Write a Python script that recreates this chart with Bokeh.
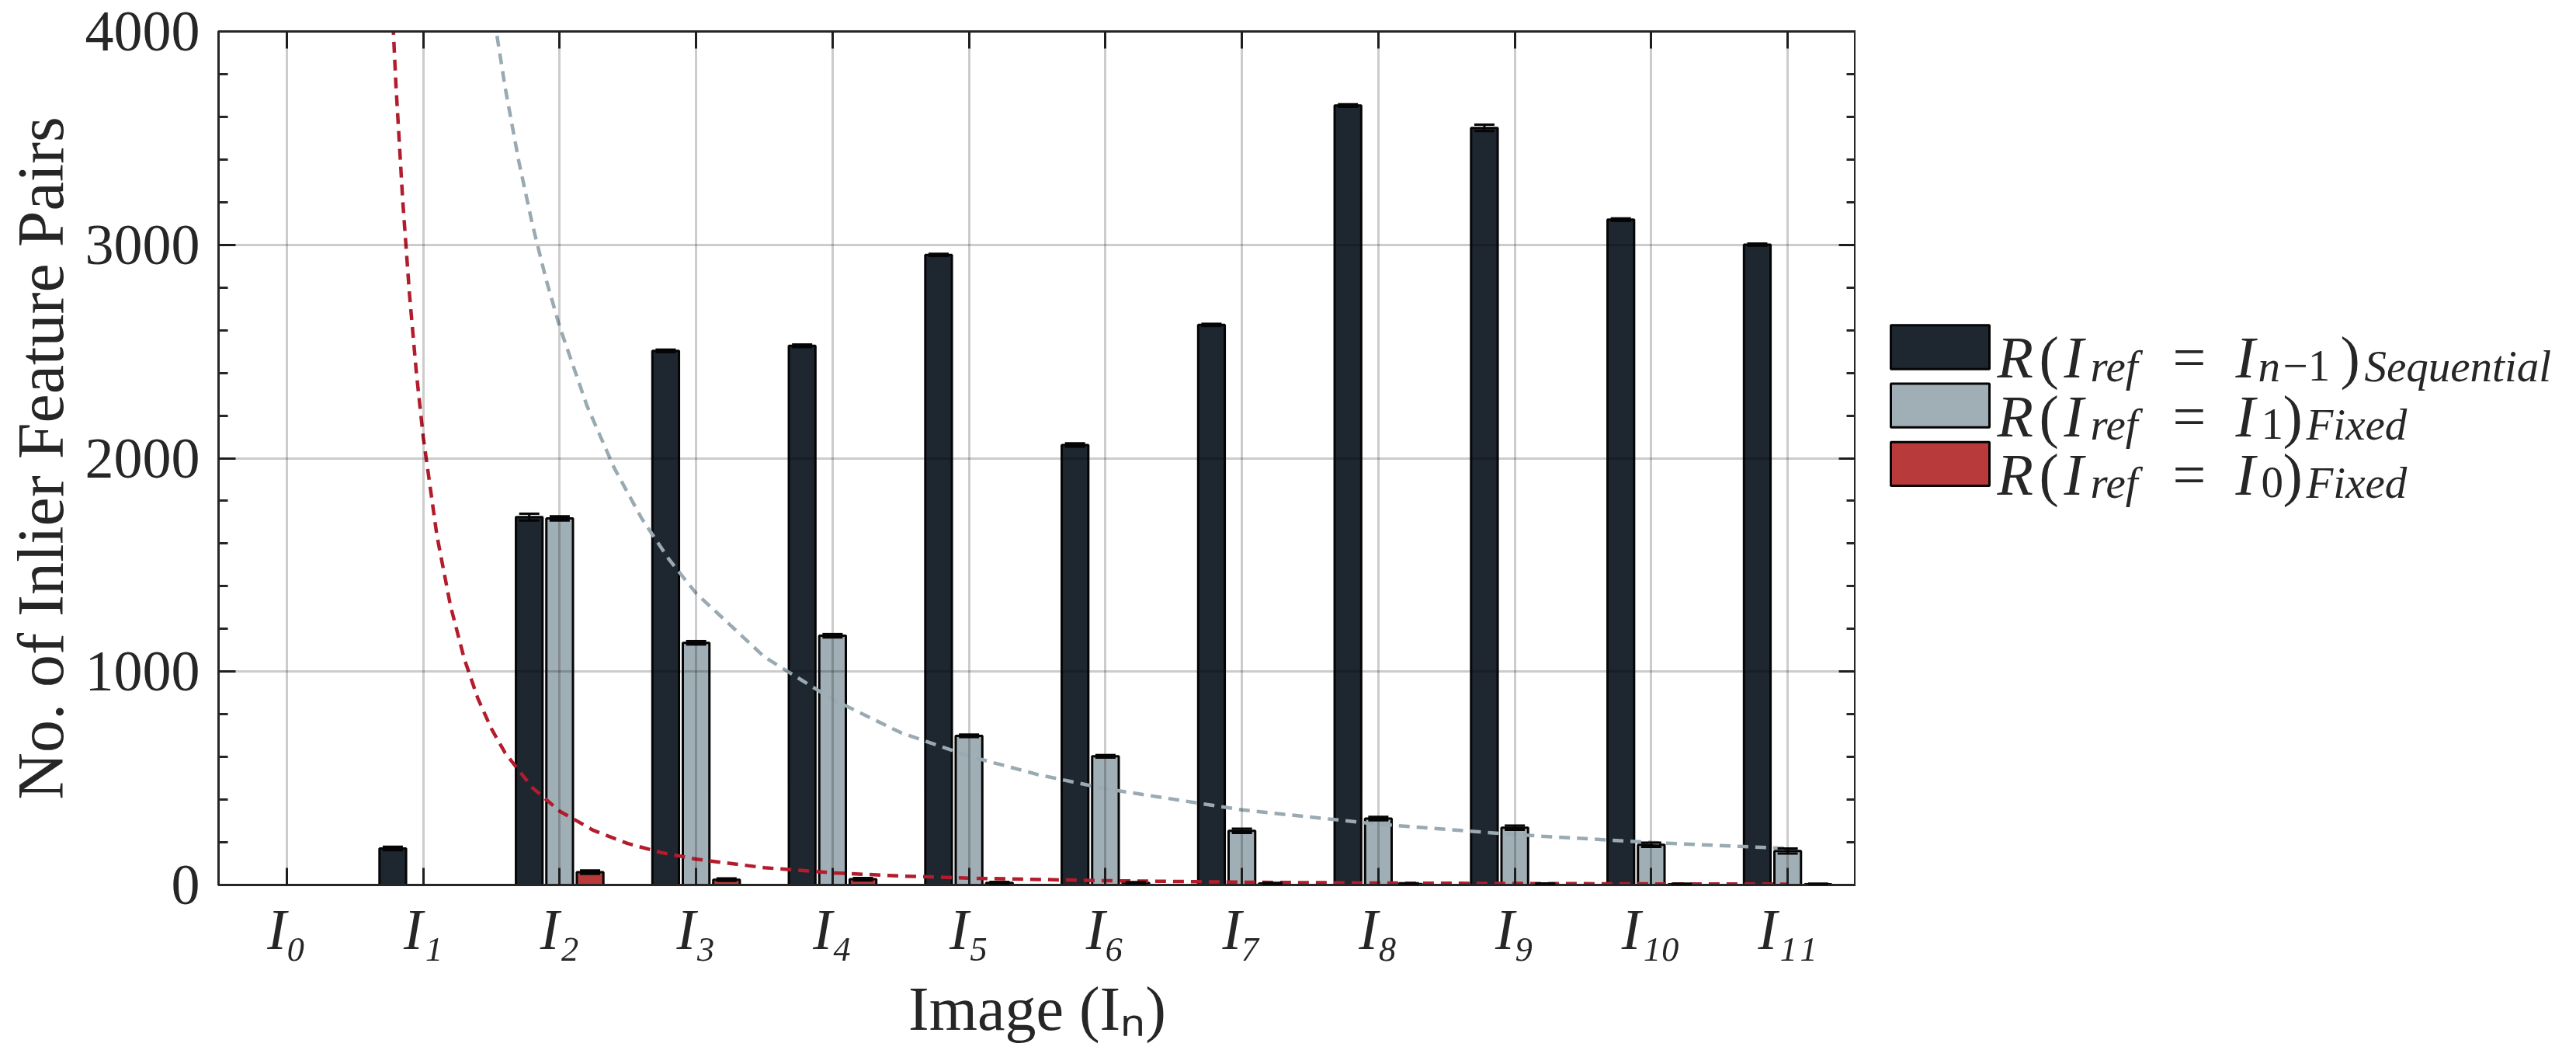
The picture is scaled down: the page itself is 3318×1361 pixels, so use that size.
import numpy as np
from bokeh.plotting import figure
from bokeh.models import (Range1d, FixedTicker, LinearAxis, ColumnDataSource,
                          Whisker, TeeHead)
from bokeh.layouts import row
from bokeh.embed import file_html
from bokeh.resources import INLINE
from bokeh.core.properties import value

# ---------------- data ----------------
image_idx = [0, 1, 2, 3, 4, 5, 6, 7, 8, 9, 10, 11]
image_labels = ["I₀", "I₁", "I₂", "I₃", "I₄", "I₅", "I₆", "I₇", "I₈", "I₉", "I₁₀", "I₁₁"]

seq_vals = [0, 171, 1724, 2503, 2527, 2953, 2062, 2625, 3653, 3548, 3118, 3001]
seq_err = [0, 8, 16, 6, 6, 5, 8, 5, 6, 15, 6, 5]

fix1_vals = [0, 0, 1718, 1135, 1168, 699, 603, 254, 311, 268, 188, 159]
fix1_err = [0, 0, 10, 8, 8, 6, 6, 10, 8, 10, 10, 12]

fix0_vals = [0, 0, 60, 25, 27, 10, 10, 7, 5, 5, 4, 4]
fix0_err = [0, 0, 8, 6, 6, 5, 4, 3, 3, 2, 2, 2]

# dashed trend curves
trend1_x = [1.5, 1.6, 1.7, 1.8, 1.9, 2.0, 2.2, 2.4, 2.6, 2.8, 3.0, 3.5, 4.0, 4.5,
            5.0, 5.5, 6.0, 7.0, 8.0, 9.0, 10.0, 11.0]
trend1_y = [4145, 3739, 3393, 3096, 2839, 2616, 2246, 1954, 1719, 1527, 1367, 1069,
            870, 714, 604, 518, 451, 352, 285, 236, 199, 171]

trend0_x = [0.76, 0.8, 0.85, 0.9, 0.95, 1.0, 1.1, 1.2, 1.3, 1.4, 1.5, 1.6, 1.8, 2.0,
            2.25, 2.5, 2.75, 3.0, 3.5, 4.0, 4.5, 5.0, 6.0, 7.0, 8.0, 9.0, 10.0, 11.0]
trend0_y = [4286, 3750, 3206, 2763, 2400, 2100, 1639, 1308, 1062, 875, 732, 619, 456,
            346, 255, 194, 151, 121, 81, 57, 42, 32, 20, 13, 9, 7, 5, 4]

y_major = [0, 1000, 2000, 3000, 4000]
y_minor = [200, 400, 600, 800, 1200, 1400, 1600, 1800, 2200, 2400, 2600, 2800,
           3200, 3400, 3600, 3800]

series_names = ["Sequential", "Fixed", "Fixed"]
ref_subs = ["n", "1", "0"]

# ---------------- style ----------------
C_DARK = "#1E2630"
C_GRAY = "#A0AEB5"
C_RED = "#B93A3A"
C_RED_LINE = "#B21C2C"
C_GRAY_LINE = "#9AAAB2"
C_AX = "#262626"
FONT = "'Liberation Serif', serif"

TOTAL_W = 3302
H = 1345
W1 = 2390
LW = TOTAL_W - W1

p = figure(width=W1, height=H, x_range=Range1d(-0.5, 11.5), y_range=Range1d(0, 4000),
           output_backend="svg", toolbar_location=None,
           min_border_left=281, min_border_right=0, min_border_top=40, min_border_bottom=205)
p.background_fill_color = "white"
p.border_fill_color = "white"
p.outline_line_color = C_AX
p.outline_line_width = 3
p.outline_line_alpha = 1.0

xticker = FixedTicker(ticks=image_idx, minor_ticks=[])
yticker = FixedTicker(ticks=y_major, minor_ticks=y_minor)

# grid
p.xgrid.ticker = xticker
p.ygrid.ticker = FixedTicker(ticks=[1000, 2000, 3000], minor_ticks=[])
for g in (p.xgrid[0], p.ygrid[0]):
    g.grid_line_color = "#000000"
    g.grid_line_alpha = 0.2
    g.grid_line_width = 3
    g.level = "annotation"


def style_axis(ax, labels=True):
    ax.axis_line_color = C_AX
    ax.axis_line_width = 3
    ax.major_tick_line_color = C_AX
    ax.major_tick_line_width = 3
    ax.minor_tick_line_color = C_AX
    ax.minor_tick_line_width = 3
    ax.major_tick_in = 22
    ax.major_tick_out = 0
    ax.minor_tick_in = 12
    ax.minor_tick_out = 0
    ax.major_label_text_font = FONT
    ax.major_label_text_color = C_AX
    if not labels:
        ax.major_label_text_font_size = "1px"
        ax.major_label_text_color = None
        ax.major_label_text_alpha = 0
        ax.major_label_standoff = 0
        ax.axis_label_standoff = 0


bx = p.xaxis[0]
bx.ticker = xticker
bx.major_label_overrides = {i: lab for i, lab in zip(image_idx, image_labels)}
style_axis(bx)
bx.major_label_text_font_size = "74px"
bx.major_label_text_font_style = "italic"
bx.major_label_standoff = 16
bx.axis_label = "Image (Iₙ)"
bx.axis_label_text_font = FONT
bx.axis_label_text_font_size = "80px"
bx.axis_label_text_font_style = "normal"
bx.axis_label_text_color = C_AX
bx.axis_label_standoff = 14

ly = p.yaxis[0]
ly.ticker = yticker
style_axis(ly)
ly.major_label_text_font_size = "74px"
ly.major_label_standoff = 24
ly.axis_label = "No. of Inlier Feature Pairs"
ly.axis_label_text_font = FONT
ly.axis_label_text_font_size = "84px"
ly.axis_label_text_font_style = "normal"
ly.axis_label_text_color = C_AX
ly.axis_label_standoff = 8

top_ax = LinearAxis(ticker=xticker)
style_axis(top_ax, labels=False)
p.add_layout(top_ax, "above")

right_ax = LinearAxis(ticker=yticker)
style_axis(right_ax, labels=False)
p.add_layout(right_ax, "right")

# ---------------- bars ----------------
BAR_W = 0.195
OFF = 0.223


def add_bars(vals, errs, offset, color):
    v = np.array(vals, dtype=float)
    e = np.array(errs, dtype=float)
    x = np.array(image_idx, dtype=float) + offset
    m = v > 0
    src = ColumnDataSource(dict(x=x[m], top=v[m], upper=v[m] + e[m], lower=v[m] - e[m]))
    p.vbar(x="x", top="top", bottom=0, width=BAR_W, source=src,
           fill_color=color, line_color="#050505", line_width=3)
    return src


srcs = [add_bars(seq_vals, seq_err, -OFF, C_DARK),
        add_bars(fix1_vals, fix1_err, 0.0, C_GRAY),
        add_bars(fix0_vals, fix0_err, OFF, C_RED)]

p.line(trend1_x, trend1_y, line_color=C_GRAY_LINE, line_width=4.5, line_dash="14 9")
p.line(trend0_x, trend0_y, line_color=C_RED_LINE, line_width=4.5, line_dash="14 9")

for src in srcs:
    w = Whisker(source=src, base="x", upper="upper", lower="lower", dimension="height",
                line_color="#050505", line_width=3, level="annotation",
                upper_head=TeeHead(size=26, line_width=3, line_color="#050505"),
                lower_head=TeeHead(size=26, line_width=3, line_color="#050505"))
    p.add_layout(w)

# ---------------- legend (separate panel) ----------------
leg = figure(width=LW, height=H, x_range=Range1d(0, LW), y_range=Range1d(H, 0),
             output_backend="svg", toolbar_location=None,
             x_axis_location=None, y_axis_location=None,
             min_border_left=0, min_border_right=0, min_border_top=0, min_border_bottom=0)
leg.outline_line_color = None
leg.grid.visible = False
leg.background_fill_color = "white"
leg.border_fill_color = "white"

X0 = 8 + W1   # page x of legend panel
Y0 = 8
row_base = [522, 614, 706]         # page baselines of legend rows
sw_colors = [C_DARK, C_GRAY, C_RED]

leg.quad(left=[2443 - X0] * 3, right=[2570 - X0] * 3,
         top=[b - 51 - Y0 for b in row_base], bottom=[b + 18 - Y0 for b in row_base],
         fill_color=sw_colors, line_color="#050505", line_width=3)

MAIN = "76px"
SUB = "57px"
SUBDY = 13

it_x, it_y, it_t = [], [], []     # italic, main size
up_x, up_y, up_t = [], [], []     # upright, main size
si_x, si_y, si_t = [], [], []     # italic, subscript size
su_x, su_y, su_t = [], [], []     # upright, subscript size

for k, b in enumerate(row_base):
    yb = b - Y0
    it_x += [2580 - X0, 2666 - X0, 2887 - X0]
    it_y += [yb, yb, yb]
    it_t += ["R", "I", "I"]
    up_x += [2634 - X0, 2806 - X0]
    up_y += [yb, yb]
    up_t += ["(", "="]
    si_x.append(2700 - X0); si_y.append(yb + SUBDY); si_t.append("ref")
    if k == 0:
        si_x.append(2916 - X0); si_y.append(yb + SUBDY); si_t.append(ref_subs[k])
        su_x.append(2948 - X0); su_y.append(yb + SUBDY); su_t.append("−1")
        up_x.append(3022 - X0); up_y.append(yb); up_t.append(")")
        si_x.append(3053 - X0); si_y.append(yb + SUBDY); si_t.append(series_names[k])
    else:
        su_x.append(2920 - X0); su_y.append(yb + SUBDY); su_t.append(ref_subs[k])
        up_x.append(2948 - X0); up_y.append(yb); up_t.append(")")
        si_x.append(2978 - X0); si_y.append(yb + SUBDY); si_t.append(series_names[k])

for xs, ys, ts, size, style in [(it_x, it_y, it_t, MAIN, "italic"),
                                (up_x, up_y, up_t, MAIN, "normal"),
                                (si_x, si_y, si_t, SUB, "italic"),
                                (su_x, su_y, su_t, SUB, "normal")]:
    leg.text(x=xs, y=ys, text=ts, text_font=value(FONT), text_font_size=value(size),
             text_font_style=style, text_color=C_AX, text_baseline="alphabetic",
             text_align="left")

layout = row(p, leg)
open("out.html", "w").write(file_html(layout, INLINE))
